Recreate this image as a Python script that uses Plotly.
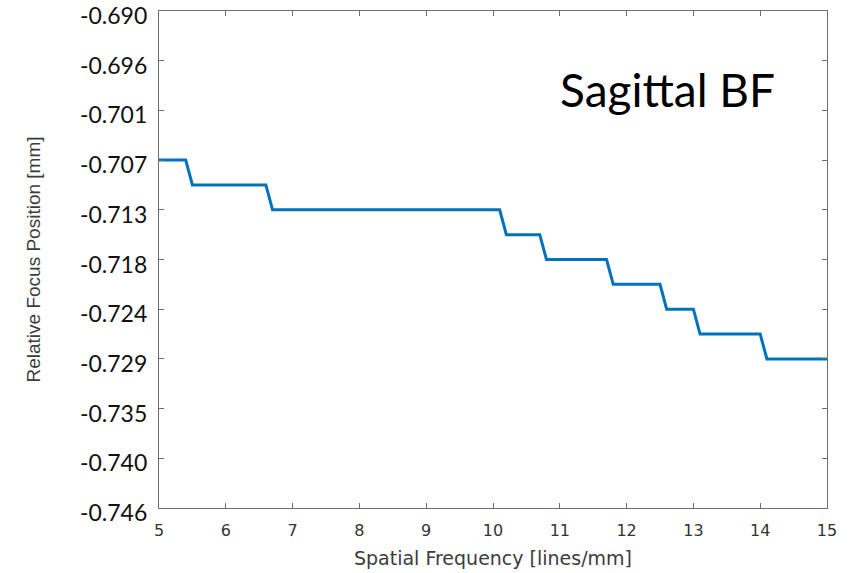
import plotly.graph_objects as go

# Step-curve breakpoints (spatial frequency, lines/mm) and focus levels (mm)
freq = [5.0, 5.4, 5.5, 6.6, 6.7, 10.1, 10.2, 10.7, 10.8, 11.7, 11.8,
        12.5, 12.6, 13.0, 13.1, 14.0, 14.1, 15.0]
focus = [-0.7068, -0.7068, -0.7096, -0.7096, -0.7124, -0.7124, -0.7152,
         -0.7152, -0.7180, -0.7180, -0.7208, -0.7208, -0.7236, -0.7236,
         -0.7264, -0.7264, -0.7292, -0.7292]

y_tick_vals = [-0.6900, -0.6956, -0.7012, -0.7068, -0.7124, -0.7180,
               -0.7236, -0.7292, -0.7348, -0.7404, -0.7460]
y_tick_text = ["-0.690", "-0.696", "-0.701", "-0.707", "-0.713", "-0.718",
               "-0.724", "-0.729", "-0.735", "-0.740", "-0.746"]
x_tick_vals = [5, 6, 7, 8, 9, 10, 11, 12, 13, 14, 15]

fig = go.Figure()
fig.add_trace(go.Scatter(
    x=freq, y=focus, mode="lines",
    line=dict(color="#0072BD", width=3),
    showlegend=False,
))

axis_common = dict(
    showline=True, linecolor="#6e6e6e", linewidth=1.3, mirror="ticks",
    ticks="inside", ticklen=5, tickcolor="#6e6e6e", tickwidth=1,
    showgrid=False, zeroline=False, automargin=False,
    ticklabeloverflow="allow",
)

fig.update_layout(
    width=861, height=573,
    margin=dict(l=159, r=34, t=11, b=65),
    paper_bgcolor="white", plot_bgcolor="white",
    xaxis=dict(
        range=[5, 15], tickvals=x_tick_vals,
        tickfont=dict(family="DejaVu Sans", size=16, color="#333333"),
        ticklabelstandoff=8,
        title=dict(text="Spatial Frequency [lines/mm]",
                   font=dict(family="DejaVu Sans", size=19, color="#3c3c3c"),
                   standoff=12),
        **axis_common,
    ),
    yaxis=dict(
        range=[-0.7460001, -0.6899999], tickvals=y_tick_vals, ticktext=y_tick_text,
        tickfont=dict(family="Lato", size=23, color="#111111"),
        ticklabelstandoff=6, ticklabelshift=5,
        title=dict(text="Relative Focus Position [mm]",
                   font=dict(family="Liberation Sans", size=19, color="#3c3c3c"),
                   standoff=34),
        **axis_common,
    ),
    annotations=[dict(
        text="Sagittal BF", xref="paper", yref="paper",
        x=0.925, y=0.843, xanchor="right", yanchor="middle",
        showarrow=False,
        font=dict(family="Lato", size=46, color="black"),
    )],
)

fig.write_html("out.html", config={"displayModeBar": False},
               post_script="document.body.style.margin='0px';")
